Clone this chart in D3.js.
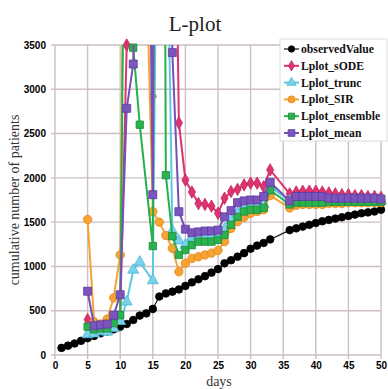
<!DOCTYPE html>
<html><head><meta charset="utf-8">
<script src="https://cdn.jsdelivr.net/npm/d3@7"></script>
<style>body{margin:0;background:#fff}svg{display:block}</style>
</head><body>
<script>
// ---- data ----
const obsDays = [1,2,3,4,5,6,7,8,9,10,11,12,13,14,15,16,17,18,19,20,21,22,23,24,25,26,27,28,29,30,31,32,33,36,37,38,39,40,41,42,43,44,45,46,47,48,49,50];
const observedValue = [80,105,130,160,190,215,245,265,290,320,350,395,445,470,520,660,695,715,740,780,820,855,890,930,970,1035,1070,1110,1150,1200,1235,1265,1305,1410,1430,1450,1470,1490,1510,1525,1540,1555,1570,1585,1600,1610,1620,1640];
const modelDays = [5,6,7,8,9,10,11,12,13,14,15,16,17,18,19,20,21,22,23,24,25,26,27,28,29,30,31,32,33,36,37,38,39,40,41,42,43,44,45,46,47,48,49,50];
const Lplot_sODE = [400,330,320,310,350,420,3500,8000,8000,8000,2920,8000,8000,8000,2620,1975,1840,1710,1700,1680,1600,1770,1845,1870,1920,1940,1940,1900,2090,1820,1840,1850,1850,1850,1840,1830,1820,1810,1810,1800,1800,1790,1790,1780];
const Lplot_trunc = [230,240,265,260,300,380,600,960,1050,null,840,8000,6000,1400,1290,1240,1330,1340,1340,1340,1350,1420,1520,1600,1680,1690,1690,1700,1900,1740,1760,1760,1760,1760,1760,1750,1750,1750,1750,1750,1750,1750,1750,1740];
const Lplot_SIR = [1530,375,350,405,645,1130,8000,8000,8000,4500,1620,1500,1350,1205,940,1035,1090,1110,1130,1150,1180,1280,1430,1505,1555,1600,1620,1640,1800,1660,1690,1700,1700,1700,1700,1710,1710,1710,1720,1720,1720,1720,1720,1720];
const Lplot_ensemble = [320,290,300,300,360,450,8000,3470,2600,null,1230,20000,2030,1340,1130,1185,1240,1280,1280,1280,1300,1355,1470,1560,1620,1640,1640,1660,1860,1700,1720,1720,1720,1720,1720,1730,1730,1730,1730,1730,1730,1730,1730,1730];
const Lplot_mean = [720,330,340,350,450,680,2785,3285,8000,8000,1810,20000,8000,3414,1618,1420,1380,1390,1400,1400,1410,1560,1630,1720,1740,1750,1750,1790,1950,1740,1790,1790,1790,1790,1790,1770,1770,1770,1770,1770,1770,1770,1770,1760];
const xTicks = [0,5,10,15,20,25,30,35,40,45,50];
const yTicks = [0,500,1000,1500,2000,2500,3000,3500];
const seriesNames = ["observedValue","Lplot_sODE","Lplot_trunc","Lplot_SIR","Lplot_ensemble","Lplot_mean"];

// ---- series table built from arrays ----
const series = [
  {name:"observedValue", days:obsDays, vals:observedValue, color:"#111", fill:"#000", stroke:"#000", sym:d3.symbolCircle, size:46, lw:1.2},
  {name:"Lplot_sODE", days:modelDays, vals:Lplot_sODE, color:"#dd3370", fill:"#dd3370", stroke:"#c0245c", sym:d3.symbolDiamond, size:44, lw:2},
  {name:"Lplot_trunc", days:modelDays, vals:Lplot_trunc, color:"#5ec8e4", fill:"#7ad3ea", stroke:"#45b6d6", sym:d3.symbolTriangle, size:52, lw:2},
  {name:"Lplot_SIR", days:modelDays, vals:Lplot_SIR, color:"#f7a334", fill:"#f7a334", stroke:"#e0891c", sym:d3.symbolCircle, size:56, lw:2},
  {name:"Lplot_ensemble", days:modelDays, vals:Lplot_ensemble, color:"#25b04c", fill:"#2bb24e", stroke:"#1a8c38", sym:d3.symbolSquare, size:54, lw:2},
  {name:"Lplot_mean", days:modelDays, vals:Lplot_mean, color:"#7650b8", fill:"#7b55bd", stroke:"#5d3c9c", sym:d3.symbolSquare, size:64, lw:2}
];

const W = 388, H = 389;
const svg = d3.select("body").append("svg").attr("width", W).attr("height", H);
const x = d3.scaleLinear().domain([0,50]).range([55,381]);
const y = d3.scaleLinear().domain([0,3500]).range([355,45]);

// title
svg.append("text").attr("x",195).attr("y",31).attr("text-anchor","middle")
  .style("font-family","'Liberation Serif',serif").style("font-size","21px").attr("fill","#222").text("L-plot");

// grid
const gridColor = "#cdbfc3";
svg.append("g").selectAll("line").data(yTicks).join("line")
  .attr("x1", x(0)-4).attr("x2", x(50)).attr("y1", d=>y(d)).attr("y2", d=>y(d))
  .attr("stroke", gridColor).attr("stroke-width",1.4);
svg.append("g").selectAll("line").data(xTicks).join("line")
  .attr("x1", d=>x(d)).attr("x2", d=>x(d)).attr("y1", y(0)+4).attr("y2", y(3500))
  .attr("stroke", gridColor).attr("stroke-width",1.4);

// axes labels via d3 axes
const yAxis = svg.append("g").attr("transform",`translate(${x(0)-9},0)`)
  .call(d3.axisLeft(y).tickValues(yTicks).tickSize(0).tickPadding(0).tickFormat(d3.format("d")));
yAxis.select(".domain").remove();
yAxis.selectAll("text").style("font-family","'Liberation Sans',Arial,sans-serif").style("font-weight","bold").style("font-size","10px").attr("fill","#000");
const xAxis = svg.append("g").attr("transform",`translate(0,${y(0)+7})`)
  .call(d3.axisBottom(x).tickValues(xTicks).tickSize(0).tickPadding(0).tickFormat(d3.format("d")));
xAxis.select(".domain").remove();
xAxis.selectAll("text").style("font-family","'Liberation Sans',Arial,sans-serif").style("font-weight","bold").style("font-size","10px").attr("fill","#000");

svg.append("text").attr("x",219).attr("y",386).attr("text-anchor","middle")
  .style("font-family","'Liberation Serif',serif").style("font-size","14px").attr("fill","#333").text("days");
svg.append("text").attr("transform","translate(19,200) rotate(-90)").attr("text-anchor","middle")
  .style("font-family","'Liberation Serif',serif").style("font-size","14px").attr("fill","#333").text("cumulative number of patients");

// clip
svg.append("clipPath").attr("id","plotclip").append("rect")
  .attr("x", x(0)).attr("y", y(3500)).attr("width", x(50)-x(0)).attr("height", y(0)-y(3500));

const line = d3.line().x(d=>x(d[0])).y(d=>y(d[1]));
series.forEach(s=>{
  const pts = s.days.map((d,i)=>[d, s.vals[i]]).filter(p=>p[1]!==null);
  const g = svg.append("g");
  g.append("path").attr("d", line(pts)).attr("fill","none").attr("stroke", s.color)
    .attr("stroke-width", s.lw).attr("clip-path","url(#plotclip)");
  g.selectAll("path.m").data(pts.filter(p=>p[1]<=3500)).join("path").attr("class","m")
    .attr("d", d3.symbol().type(s.sym).size(s.size))
    .attr("transform", p=>`translate(${x(p[0])},${y(p[1])})`)
    .attr("fill", s.fill).attr("stroke", s.stroke).attr("stroke-width",0.8);
});

// legend
const lg = svg.append("g");
lg.append("rect").attr("x",280).attr("y",39).attr("width",107).attr("height",102)
  .attr("fill","#fff").attr("stroke","#dcdcdc").attr("stroke-width",1);
series.forEach((s,i)=>{
  const yy = 49 + i*16.8;
  lg.append("line").attr("x1",284).attr("x2",299).attr("y1",yy).attr("y2",yy)
    .attr("stroke", s.color).attr("stroke-width", s.lw);
  lg.append("path").attr("d", d3.symbol().type(s.sym).size(s.size*0.7)())
    .attr("transform",`translate(291.5,${yy})`).attr("fill", s.fill).attr("stroke", s.stroke).attr("stroke-width",0.8);
  lg.append("text").attr("x",301).attr("y",yy+4).text(seriesNames[i])
    .style("font-family","'Liberation Serif',serif").style("font-weight","bold").style("font-size","11.7px").attr("fill","#111");
});
</script>
</body></html>
